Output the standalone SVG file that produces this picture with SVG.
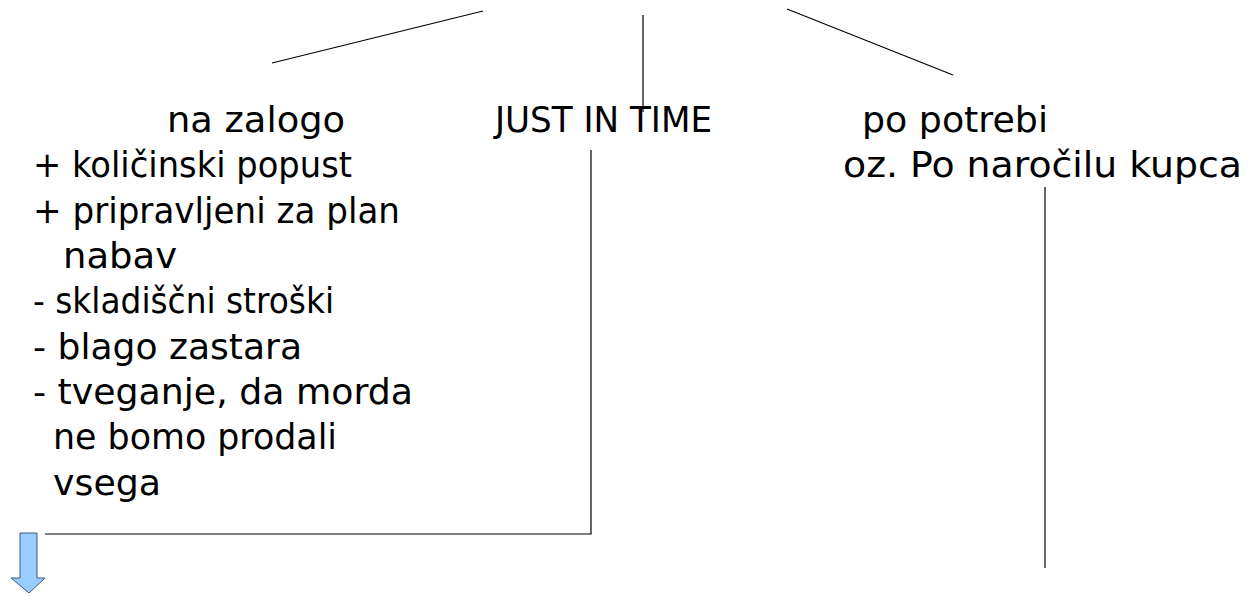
<svg xmlns="http://www.w3.org/2000/svg" width="1250" height="597" viewBox="0 0 1250 597">
<style>
text{font-family:"DejaVu Sans","Liberation Sans",sans-serif;font-size:35px;fill:#000}
.ln{stroke:#000;stroke-width:1.2;fill:none}
</style>
<rect width="1250" height="597" fill="#fff"/>
<g id="connectors">
<line class="ln" x1="272" y1="63" x2="483" y2="11"/>
<line class="ln" x1="643" y1="15" x2="643" y2="112"/>
<line class="ln" x1="787" y1="9" x2="953" y2="75"/>
<polyline class="ln" points="591,150 591,534 45,534"/>
<line class="ln" x1="1045" y1="187" x2="1045" y2="568"/>
</g>
<g id="zalogo">
<text x="167" y="132" textLength="178" lengthAdjust="spacingAndGlyphs">na zalogo</text>
<text x="33" y="177" textLength="319" lengthAdjust="spacingAndGlyphs">+ količinski popust</text>
<text x="33" y="223" textLength="367" lengthAdjust="spacingAndGlyphs">+ pripravljeni za plan</text>
<text x="63" y="268" textLength="114" lengthAdjust="spacingAndGlyphs">nabav</text>
<text x="33" y="313" textLength="301" lengthAdjust="spacingAndGlyphs">- skladiščni stroški</text>
<text x="33" y="359" textLength="269" lengthAdjust="spacingAndGlyphs">- blago zastara</text>
<text x="33" y="404" textLength="380" lengthAdjust="spacingAndGlyphs">- tveganje, da morda</text>
<text x="53" y="449" textLength="284" lengthAdjust="spacingAndGlyphs">ne bomo prodali</text>
<text x="53" y="495" textLength="108" lengthAdjust="spacingAndGlyphs">vsega</text>
</g>
<g id="jit">
<text x="495" y="132" textLength="217" lengthAdjust="spacingAndGlyphs">JUST IN TIME</text>
</g>
<g id="potrebi">
<text x="862" y="132" textLength="186" lengthAdjust="spacingAndGlyphs">po potrebi</text>
<text x="843" y="177" textLength="399" lengthAdjust="spacingAndGlyphs">oz. Po naročilu kupca</text>
</g>
<g id="arrow">
<polygon points="20,533 37,533 37,578 45,578 29,593 11,578 20,578" fill="#99ccff" stroke="#3d5a80" stroke-width="1"/>
</g>
</svg>
